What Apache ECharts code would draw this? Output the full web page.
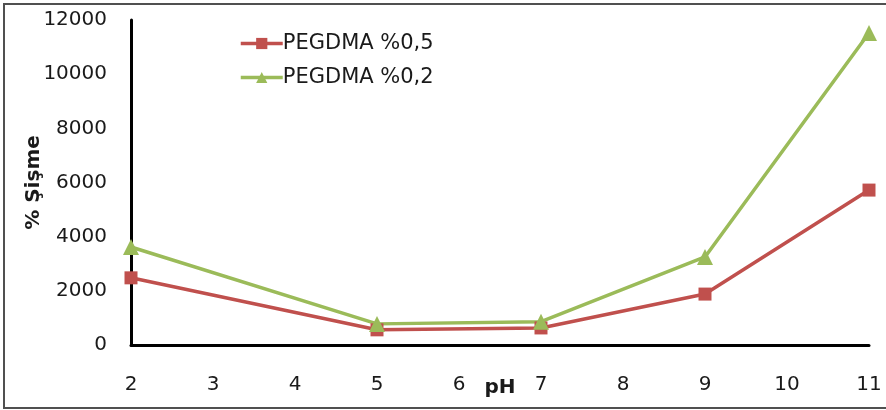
<!DOCTYPE html>
<html><head><meta charset="utf-8">
<script src="https://cdn.jsdelivr.net/npm/echarts@6/dist/echarts.min.js"></script>
<style>html,body{margin:0;padding:0;background:#fff}#c{width:886px;height:410px}</style>
</head><body><div id="c"></div>
<script>
const phValues = [2, 5, 7, 9, 11];
const seriesNames = ['PEGDMA %0,5', 'PEGDMA %0,2'];
const swell05 = [2480, 560, 630, 1880, 5720];
const swell02 = [3620, 780, 860, 3250, 11520];
const xTitle = 'pH';
const yTitle = '% Şişme';

const font = 'DejaVu Sans';
const chart = echarts.init(document.getElementById('c'), null, {renderer: 'canvas'});
function pairs(v) { return phValues.map((x, i) => [x, v[i]]); }
chart.setOption({
  animation: false,
  backgroundColor: '#fff',
  graphic: [{
    type: 'rect', shape: {x: 4, y: 4, width: 900, height: 404},
    style: {fill: 'none', stroke: '#505050', lineWidth: 2}, silent: true, z: -1
  }],
  grid: {left: 131, right: 17, top: 20, bottom: 65, containLabel: false, outerBoundsMode: 'none'},
  legend: {
    orient: 'vertical', left: 234, top: 28, itemWidth: 42, itemHeight: 14, itemGap: 13,
    lineStyle: {width: 3.5},
    textStyle: {fontFamily: font, fontSize: 21, color: '#1a1a1a', padding: [0, 0, 0, -5]},
    data: seriesNames
  },
  xAxis: {
    type: 'value', min: 2, max: 11, interval: 1,
    name: xTitle, nameLocation: 'middle', nameGap: 33, nameMoveOverlap: false,
    nameTextStyle: {fontFamily: font, fontSize: 20, fontWeight: 'bold', color: '#1a1a1a'},
    axisLine: {show: true, lineStyle: {color: '#000', width: 3}},
    axisTick: {show: false}, splitLine: {show: false},
    axisLabel: {fontFamily: font, fontSize: 20, color: '#1a1a1a', margin: 30}
  },
  yAxis: {
    type: 'value', min: 0, max: 12000, interval: 2000,
    name: yTitle, nameLocation: 'middle', nameGap: 87, nameRotate: 90, nameMoveOverlap: false,
    nameTextStyle: {fontFamily: font, fontSize: 20, fontWeight: 'bold', color: '#1a1a1a'},
    axisLine: {show: true, lineStyle: {color: '#000', width: 3}},
    axisTick: {show: false}, splitLine: {show: false},
    axisLabel: {fontFamily: font, fontSize: 20, color: '#1a1a1a', margin: 24,
      formatter: v => String(v)}
  },
  series: [
    {name: seriesNames[0], type: 'line', data: pairs(swell05), symbol: 'rect', symbolSize: 13,
     lineStyle: {color: '#C0504D', width: 3.5}, itemStyle: {color: '#C0504D'}},
    {name: seriesNames[1], type: 'line', data: pairs(swell02), symbol: 'triangle', symbolSize: 16,
     lineStyle: {color: '#9BBB59', width: 3.5}, itemStyle: {color: '#9BBB59'}}
  ]
});
</script></body></html>
